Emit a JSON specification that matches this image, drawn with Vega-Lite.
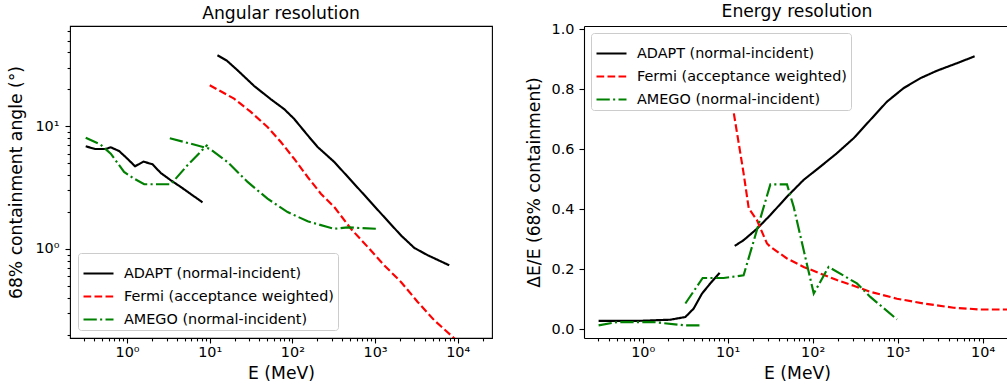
{
  "$schema": "https://vega.github.io/schema/vega-lite/v6.json",
  "padding": {"left": 7, "top": 2, "right": 0, "bottom": 0},
  "config": {
    "font": "DejaVu Sans",
    "view": {"stroke": null},
    "axis": {
      "labelFont": "DejaVu Sans", "labelFontSize": 14.4, "labelColor": "black",
      "titleFont": "DejaVu Sans", "titleFontSize": 17.2, "titleFontWeight": "normal", "titleColor": "black",
      "tickColor": "black", "domainColor": "black", "tickWidth": 1.1, "domainWidth": 1.1,
      "grid": false, "labelOverlap": false, "labelFlush": false
    },
    "title": {"font": "DejaVu Sans", "fontSize": 17.2, "fontWeight": "normal", "color": "black", "frame": "group", "anchor": "middle", "baseline": "alphabetic", "offset": 1},
    "legend": {
      "title": null, "symbolType": "stroke", "symbolSize": 900, "symbolStrokeWidth": 2.15,
      "labelFont": "DejaVu Sans", "labelFontSize": 14.4, "labelColor": "black", "labelLimit": 0,
      "fillColor": "white", "fillOpacity": 0.8, "strokeColor": "#cccccc", "cornerRadius": 3, "padding": 4,
      "rowPadding": -5, "labelOffset": 9
    }
  },
  "datasets": {
    "angular": [
      {"series": "ADAPT (normal-incident)", "seg": "a1", "E": 0.316, "v": 6.87},
      {"series": "ADAPT (normal-incident)", "seg": "a1", "E": 0.41, "v": 6.53},
      {"series": "ADAPT (normal-incident)", "seg": "a1", "E": 0.552, "v": 6.53},
      {"series": "ADAPT (normal-incident)", "seg": "a1", "E": 0.635, "v": 6.74},
      {"series": "ADAPT (normal-incident)", "seg": "a1", "E": 0.8, "v": 6.29},
      {"series": "ADAPT (normal-incident)", "seg": "a1", "E": 1.01, "v": 5.44},
      {"series": "ADAPT (normal-incident)", "seg": "a1", "E": 1.25, "v": 4.72},
      {"series": "ADAPT (normal-incident)", "seg": "a1", "E": 1.58, "v": 5.15},
      {"series": "ADAPT (normal-incident)", "seg": "a1", "E": 2.03, "v": 4.9},
      {"series": "ADAPT (normal-incident)", "seg": "a1", "E": 2.56, "v": 4.16},
      {"series": "ADAPT (normal-incident)", "seg": "a1", "E": 3.38, "v": 3.63},
      {"series": "ADAPT (normal-incident)", "seg": "a1", "E": 4.47, "v": 3.2},
      {"series": "ADAPT (normal-incident)", "seg": "a1", "E": 6.19, "v": 2.74},
      {"series": "ADAPT (normal-incident)", "seg": "a1", "E": 8.18, "v": 2.4},
      {"series": "ADAPT (normal-incident)", "seg": "a2", "E": 12.4, "v": 37.9},
      {"series": "ADAPT (normal-incident)", "seg": "a2", "E": 16.1, "v": 34.3},
      {"series": "ADAPT (normal-incident)", "seg": "a2", "E": 21.7, "v": 28.6},
      {"series": "ADAPT (normal-incident)", "seg": "a2", "E": 34.5, "v": 21.3},
      {"series": "ADAPT (normal-incident)", "seg": "a2", "E": 55, "v": 16.6},
      {"series": "ADAPT (normal-incident)", "seg": "a2", "E": 79.6, "v": 13.8},
      {"series": "ADAPT (normal-incident)", "seg": "a2", "E": 105, "v": 11.5},
      {"series": "ADAPT (normal-incident)", "seg": "a2", "E": 153, "v": 8.45},
      {"series": "ADAPT (normal-incident)", "seg": "a2", "E": 202, "v": 6.78},
      {"series": "ADAPT (normal-incident)", "seg": "a2", "E": 321, "v": 5.12},
      {"series": "ADAPT (normal-incident)", "seg": "a2", "E": 511, "v": 3.63},
      {"series": "ADAPT (normal-incident)", "seg": "a2", "E": 813, "v": 2.57},
      {"series": "ADAPT (normal-incident)", "seg": "a2", "E": 1291, "v": 1.82},
      {"series": "ADAPT (normal-incident)", "seg": "a2", "E": 2060, "v": 1.29},
      {"series": "ADAPT (normal-incident)", "seg": "a2", "E": 2985, "v": 1.02},
      {"series": "ADAPT (normal-incident)", "seg": "a2", "E": 4335, "v": 0.889},
      {"series": "ADAPT (normal-incident)", "seg": "a2", "E": 7900, "v": 0.736},
      {"series": "Fermi (acceptance weighted)", "seg": "f", "E": 10, "v": 21.6},
      {"series": "Fermi (acceptance weighted)", "seg": "f", "E": 19.7, "v": 16.8},
      {"series": "Fermi (acceptance weighted)", "seg": "f", "E": 31.4, "v": 13.1},
      {"series": "Fermi (acceptance weighted)", "seg": "f", "E": 50, "v": 9.87},
      {"series": "Fermi (acceptance weighted)", "seg": "f", "E": 72.6, "v": 7.45},
      {"series": "Fermi (acceptance weighted)", "seg": "f", "E": 105, "v": 5.44},
      {"series": "Fermi (acceptance weighted)", "seg": "f", "E": 153, "v": 3.86},
      {"series": "Fermi (acceptance weighted)", "seg": "f", "E": 221, "v": 2.82},
      {"series": "Fermi (acceptance weighted)", "seg": "f", "E": 321, "v": 2.2},
      {"series": "Fermi (acceptance weighted)", "seg": "f", "E": 511, "v": 1.46},
      {"series": "Fermi (acceptance weighted)", "seg": "f", "E": 813, "v": 1.04},
      {"series": "Fermi (acceptance weighted)", "seg": "f", "E": 1291, "v": 0.736},
      {"series": "Fermi (acceptance weighted)", "seg": "f", "E": 2060, "v": 0.538},
      {"series": "Fermi (acceptance weighted)", "seg": "f", "E": 3280, "v": 0.37},
      {"series": "Fermi (acceptance weighted)", "seg": "f", "E": 5210, "v": 0.262},
      {"series": "Fermi (acceptance weighted)", "seg": "f", "E": 8690, "v": 0.192},
      {"series": "Fermi (acceptance weighted)", "seg": "f", "E": 20000, "v": 0.11},
      {"series": "AMEGO (normal-incident)", "seg": "g1", "E": 0.316, "v": 8.07},
      {"series": "AMEGO (normal-incident)", "seg": "g1", "E": 0.48, "v": 7.08},
      {"series": "AMEGO (normal-incident)", "seg": "g1", "E": 0.635, "v": 5.98},
      {"series": "AMEGO (normal-incident)", "seg": "g1", "E": 0.92, "v": 4.24},
      {"series": "AMEGO (normal-incident)", "seg": "g1", "E": 1.22, "v": 3.74},
      {"series": "AMEGO (normal-incident)", "seg": "g1", "E": 1.61, "v": 3.37},
      {"series": "AMEGO (normal-incident)", "seg": "g1", "E": 3.38, "v": 3.37},
      {"series": "AMEGO (normal-incident)", "seg": "g1", "E": 5.38, "v": 4.81},
      {"series": "AMEGO (normal-incident)", "seg": "g1", "E": 9.4, "v": 7.08},
      {"series": "AMEGO (normal-incident)", "seg": "g2", "E": 3.29, "v": 7.98},
      {"series": "AMEGO (normal-incident)", "seg": "g2", "E": 5.9, "v": 7.21},
      {"series": "AMEGO (normal-incident)", "seg": "g2", "E": 10, "v": 6.56},
      {"series": "AMEGO (normal-incident)", "seg": "g2", "E": 16.4, "v": 5.12},
      {"series": "AMEGO (normal-incident)", "seg": "g2", "E": 28.7, "v": 3.52},
      {"series": "AMEGO (normal-incident)", "seg": "g2", "E": 50, "v": 2.57},
      {"series": "AMEGO (normal-incident)", "seg": "g2", "E": 87.5, "v": 2.0},
      {"series": "AMEGO (normal-incident)", "seg": "g2", "E": 153, "v": 1.68},
      {"series": "AMEGO (normal-incident)", "seg": "g2", "E": 267, "v": 1.51},
      {"series": "AMEGO (normal-incident)", "seg": "g2", "E": 321, "v": 1.46},
      {"series": "AMEGO (normal-incident)", "seg": "g2", "E": 466, "v": 1.5},
      {"series": "AMEGO (normal-incident)", "seg": "g2", "E": 1026, "v": 1.46}
    ],
    "energy": [
      {"series": "ADAPT (normal-incident)", "seg": "e1", "E": 0.303, "v": 0.027},
      {"series": "ADAPT (normal-incident)", "seg": "e1", "E": 0.86, "v": 0.027},
      {"series": "ADAPT (normal-incident)", "seg": "e1", "E": 2.12, "v": 0.031},
      {"series": "ADAPT (normal-incident)", "seg": "e1", "E": 3.18, "v": 0.04},
      {"series": "ADAPT (normal-incident)", "seg": "e1", "E": 3.98, "v": 0.068},
      {"series": "ADAPT (normal-incident)", "seg": "e1", "E": 4.99, "v": 0.118},
      {"series": "ADAPT (normal-incident)", "seg": "e1", "E": 6.25, "v": 0.152},
      {"series": "ADAPT (normal-incident)", "seg": "e1", "E": 8.05, "v": 0.187},
      {"series": "ADAPT (normal-incident)", "seg": "e2", "E": 12.1, "v": 0.277},
      {"series": "ADAPT (normal-incident)", "seg": "e2", "E": 15.4, "v": 0.296},
      {"series": "ADAPT (normal-incident)", "seg": "e2", "E": 22.1, "v": 0.334},
      {"series": "ADAPT (normal-incident)", "seg": "e2", "E": 31.8, "v": 0.38},
      {"series": "ADAPT (normal-incident)", "seg": "e2", "E": 49.9, "v": 0.441},
      {"series": "ADAPT (normal-incident)", "seg": "e2", "E": 78.3, "v": 0.497},
      {"series": "ADAPT (normal-incident)", "seg": "e2", "E": 123, "v": 0.541},
      {"series": "ADAPT (normal-incident)", "seg": "e2", "E": 193, "v": 0.586},
      {"series": "ADAPT (normal-incident)", "seg": "e2", "E": 304, "v": 0.636},
      {"series": "ADAPT (normal-incident)", "seg": "e2", "E": 477, "v": 0.697},
      {"series": "ADAPT (normal-incident)", "seg": "e2", "E": 750, "v": 0.758},
      {"series": "ADAPT (normal-incident)", "seg": "e2", "E": 1177, "v": 0.803},
      {"series": "ADAPT (normal-incident)", "seg": "e2", "E": 1850, "v": 0.836},
      {"series": "ADAPT (normal-incident)", "seg": "e2", "E": 2905, "v": 0.861},
      {"series": "ADAPT (normal-incident)", "seg": "e2", "E": 4990, "v": 0.886},
      {"series": "ADAPT (normal-incident)", "seg": "e2", "E": 8050, "v": 0.909},
      {"series": "Fermi (acceptance weighted)", "seg": "f", "E": 10.3, "v": 0.79},
      {"series": "Fermi (acceptance weighted)", "seg": "f", "E": 11.8, "v": 0.72},
      {"series": "Fermi (acceptance weighted)", "seg": "f", "E": 13.5, "v": 0.619},
      {"series": "Fermi (acceptance weighted)", "seg": "f", "E": 15.4, "v": 0.519},
      {"series": "Fermi (acceptance weighted)", "seg": "f", "E": 17.7, "v": 0.402},
      {"series": "Fermi (acceptance weighted)", "seg": "f", "E": 22.1, "v": 0.363},
      {"series": "Fermi (acceptance weighted)", "seg": "f", "E": 29, "v": 0.285},
      {"series": "Fermi (acceptance weighted)", "seg": "f", "E": 31.8, "v": 0.274},
      {"series": "Fermi (acceptance weighted)", "seg": "f", "E": 49.9, "v": 0.235},
      {"series": "Fermi (acceptance weighted)", "seg": "f", "E": 78.3, "v": 0.207},
      {"series": "Fermi (acceptance weighted)", "seg": "f", "E": 123, "v": 0.185},
      {"series": "Fermi (acceptance weighted)", "seg": "f", "E": 193, "v": 0.163},
      {"series": "Fermi (acceptance weighted)", "seg": "f", "E": 304, "v": 0.144},
      {"series": "Fermi (acceptance weighted)", "seg": "f", "E": 477, "v": 0.124},
      {"series": "Fermi (acceptance weighted)", "seg": "f", "E": 982, "v": 0.101},
      {"series": "Fermi (acceptance weighted)", "seg": "f", "E": 2020, "v": 0.085},
      {"series": "Fermi (acceptance weighted)", "seg": "f", "E": 4560, "v": 0.071},
      {"series": "Fermi (acceptance weighted)", "seg": "f", "E": 9400, "v": 0.065},
      {"series": "Fermi (acceptance weighted)", "seg": "f", "E": 21000, "v": 0.065},
      {"series": "AMEGO (normal-incident)", "seg": "g1", "E": 0.303, "v": 0.012},
      {"series": "AMEGO (normal-incident)", "seg": "g1", "E": 0.5, "v": 0.023},
      {"series": "AMEGO (normal-incident)", "seg": "g1", "E": 1.35, "v": 0.023},
      {"series": "AMEGO (normal-incident)", "seg": "g1", "E": 3.18, "v": 0.012},
      {"series": "AMEGO (normal-incident)", "seg": "g1", "E": 5.08, "v": 0.012},
      {"series": "AMEGO (normal-incident)", "seg": "g2", "E": 3.18, "v": 0.085},
      {"series": "AMEGO (normal-incident)", "seg": "g2", "E": 5.08, "v": 0.17},
      {"series": "AMEGO (normal-incident)", "seg": "g2", "E": 8.97, "v": 0.17},
      {"series": "AMEGO (normal-incident)", "seg": "g2", "E": 15.4, "v": 0.179},
      {"series": "AMEGO (normal-incident)", "seg": "g2", "E": 22.1, "v": 0.33},
      {"series": "AMEGO (normal-incident)", "seg": "g2", "E": 31.8, "v": 0.482},
      {"series": "AMEGO (normal-incident)", "seg": "g2", "E": 49.9, "v": 0.482},
      {"series": "AMEGO (normal-incident)", "seg": "g2", "E": 59.7, "v": 0.408},
      {"series": "AMEGO (normal-incident)", "seg": "g2", "E": 103, "v": 0.118},
      {"series": "AMEGO (normal-incident)", "seg": "g2", "E": 154, "v": 0.207},
      {"series": "AMEGO (normal-incident)", "seg": "g2", "E": 332, "v": 0.152},
      {"series": "AMEGO (normal-incident)", "seg": "g2", "E": 477, "v": 0.107},
      {"series": "AMEGO (normal-incident)", "seg": "g2", "E": 982, "v": 0.032}
    ]
  },
  "spacing": 32,
  "resolve": {
    "scale": {"color": "independent", "strokeDash": "independent"},
    "legend": {"color": "independent", "strokeDash": "independent"}
  },
  "hconcat": [
    {
      "title": "Angular resolution",
      "width": 422,
      "height": 312,
      "view": {"stroke": "black", "strokeWidth": 1.1},
      "data": {"name": "angular"},
      "mark": {"type": "line", "strokeWidth": 2.15, "clip": true},
      "encoding": {
        "x": {
          "field": "E", "type": "quantitative",
          "scale": {"type": "log", "domain": [0.204, 26000], "nice": false},
          "axis": {
            "title": "E (MeV)", "domain": false, "titlePadding": 6, "labelPadding": 2,
            "values": [0.3,0.4,0.5,0.6,0.7,0.8,0.9,1,2,3,4,5,6,7,8,9,10,20,30,40,50,60,70,80,90,100,200,300,400,500,600,700,800,900,1000,2000,3000,4000,5000,6000,7000,8000,9000,10000,20000],
            "labelExpr": "abs(log(datum.value)/LN10 - round(log(datum.value)/LN10)) < 0.01 ? '10' + ['⁰','¹','²','³','⁴'][round(log(datum.value)/LN10)] : ''",
            "tickSize": {"condition": {"test": "abs(log(datum.value)/LN10 - round(log(datum.value)/LN10)) < 0.01", "value": 5}, "value": 2.9}
          }
        },
        "y": {
          "field": "v", "type": "quantitative",
          "scale": {"type": "log", "domain": [0.188, 65.7], "nice": false},
          "axis": {
            "title": "68% containment angle (°)", "domain": false, "titlePadding": 9, "labelPadding": 6,
            "values": [0.2,0.3,0.4,0.5,0.6,0.7,0.8,0.9,1,2,3,4,5,6,7,8,9,10,20,30,40,50,60],
            "labelExpr": "abs(log(datum.value)/LN10 - round(log(datum.value)/LN10)) < 0.01 ? '10' + ['⁰','¹','²','³','⁴'][round(log(datum.value)/LN10)] : ''",
            "tickSize": {"condition": {"test": "abs(log(datum.value)/LN10 - round(log(datum.value)/LN10)) < 0.01", "value": 5}, "value": 2.9}
          }
        },
        "color": {
          "field": "series", "type": "nominal",
          "scale": {"domain": ["ADAPT (normal-incident)", "Fermi (acceptance weighted)", "AMEGO (normal-incident)"], "range": ["black", "#ff0000", "#008000"]},
          "legend": {"orient": "bottom-left", "offset": 8}
        },
        "strokeDash": {
          "field": "series", "type": "nominal",
          "scale": {"domain": ["ADAPT (normal-incident)", "Fermi (acceptance weighted)", "AMEGO (normal-incident)"], "range": [[1, 0], [7.7, 3.3], [13.3, 3.3, 2.1, 3.3]]},
          "legend": {"orient": "bottom-left", "offset": 8}
        },
        "detail": {"field": "seg", "type": "nominal"}
      }
    },
    {
      "title": "Energy resolution",
      "width": 426,
      "height": 312,
      "data": {"name": "energy"},
      "resolve": {"axis": {"x": "independent"}},
      "layer": [
        {
          "mark": {"type": "line", "strokeWidth": 2.15, "clip": true},
          "encoding": {
            "x": {
              "field": "E", "type": "quantitative",
              "scale": {"type": "log", "domain": [0.204, 20990], "nice": false},
              "axis": {
                "title": "E (MeV)", "orient": "bottom", "domain": true, "titlePadding": 6, "labelPadding": 2,
                "values": [0.3,0.4,0.5,0.6,0.7,0.8,0.9,1,2,3,4,5,6,7,8,9,10,20,30,40,50,60,70,80,90,100,200,300,400,500,600,700,800,900,1000,2000,3000,4000,5000,6000,7000,8000,9000,10000,20000],
                "labelExpr": "abs(log(datum.value)/LN10 - round(log(datum.value)/LN10)) < 0.01 ? '10' + ['⁰','¹','²','³','⁴'][round(log(datum.value)/LN10)] : ''",
                "tickSize": {"condition": {"test": "abs(log(datum.value)/LN10 - round(log(datum.value)/LN10)) < 0.01", "value": 5}, "value": 2.9}
              }
            },
            "y": {
              "field": "v", "type": "quantitative",
              "scale": {"domain": [-0.03, 1.01], "nice": false, "zero": false},
              "axis": {
                "title": "ΔE/E (68% containment)", "domain": true, "titlePadding": 8, "labelPadding": 5, "tickSize": 5,
                "values": [0, 0.2, 0.4, 0.6, 0.8, 1.0], "format": ".1f"
              }
            },
            "color": {
              "field": "series", "type": "nominal",
              "scale": {"domain": ["ADAPT (normal-incident)", "Fermi (acceptance weighted)", "AMEGO (normal-incident)"], "range": ["black", "#ff0000", "#008000"]},
              "legend": {"orient": "top-left", "offset": 7}
            },
            "strokeDash": {
              "field": "series", "type": "nominal",
              "scale": {"domain": ["ADAPT (normal-incident)", "Fermi (acceptance weighted)", "AMEGO (normal-incident)"], "range": [[1, 0], [7.7, 3.3], [13.3, 3.3, 2.1, 3.3]]},
              "legend": {"orient": "top-left", "offset": 7}
            },
            "detail": {"field": "seg", "type": "nominal"}
          }
        },
        {
          "mark": {"type": "line", "opacity": 0},
          "encoding": {
            "x": {
              "field": "E", "type": "quantitative",
              "scale": {"type": "log", "domain": [0.204, 20990], "nice": false},
              "axis": {"orient": "top", "title": null, "labels": false, "ticks": false, "domain": true}
            }
          }
        }
      ]
    }
  ]
}
